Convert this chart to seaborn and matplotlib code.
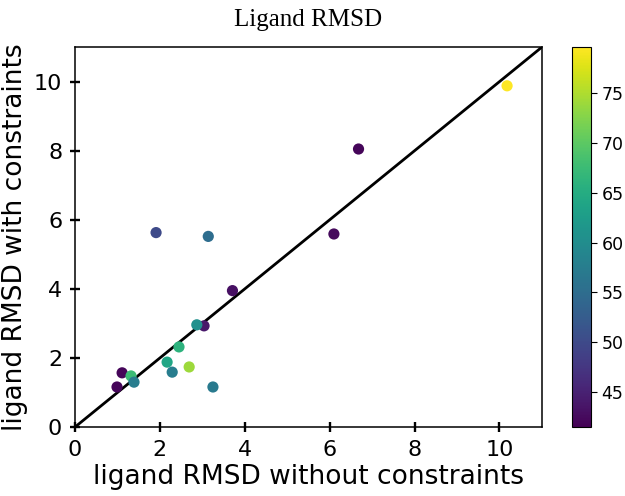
import numpy as np
import pandas as pd
import seaborn as sns
import matplotlib.pyplot as plt
from matplotlib.colors import Normalize
from matplotlib.cm import ScalarMappable

# RMSD values
rmsd_free = [10.18, 6.68, 6.10, 1.91, 3.14, 3.71, 3.04, 2.87, 2.45, 2.17,
             2.29, 2.69, 3.25, 1.11, 0.99, 1.32, 1.39]
rmsd_constr = [9.88, 8.05, 5.59, 5.63, 5.52, 3.95, 2.93, 2.96, 2.32, 1.88,
               1.59, 1.74, 1.16, 1.57, 1.16, 1.48, 1.30]
color_val = [79.5, 42.0, 42.5, 50.0, 55.0, 43.0, 44.0, 60.5, 66.0, 64.0,
             57.5, 74.0, 57.0, 42.0, 42.0, 67.5, 57.5]
vmin, vmax = 41.5, 79.6

df = pd.DataFrame({'x': rmsd_free, 'y': rmsd_constr, 'c': color_val})

sns.set_style('white')
plt.rcParams['font.family'] = ['DejaVu Sans']

fig = plt.figure(figsize=(6.25, 4.96), dpi=100)
ax = fig.add_axes([0.12, 0.139, 0.747, 0.766])
cax = fig.add_axes([0.915, 0.139, 0.031, 0.766])

sns.scatterplot(data=df, x='x', y='y', hue='c', palette='viridis',
                hue_norm=(vmin, vmax), s=65, linewidth=0, legend=False,
                ax=ax, zorder=3)
ax.plot([0, 11], [0, 11], color='black', lw=2, zorder=2)

ax.set_xlim(0, 11)
ax.set_ylim(0, 11)
ax.set_xticks([0, 2, 4, 6, 8, 10])
ax.set_yticks([0, 2, 4, 6, 8, 10])
ax.tick_params(labelsize=16, direction='inout', length=6.5, width=1.7,
               bottom=True, left=True, colors='black', pad=6)
for sp in ax.spines.values():
    sp.set_color('black')
    sp.set_linewidth(1.1)
ax.set_xlabel('ligand RMSD without constraints', fontsize=19, labelpad=3,
              color='black')
ax.set_ylabel('ligand RMSD with constraints', fontsize=19, labelpad=4,
              color='black')
ax.set_title('Ligand RMSD', fontsize=18, family='Liberation Serif', pad=15,
             color='black')

sm = ScalarMappable(norm=Normalize(vmin, vmax), cmap='viridis')
cb = fig.colorbar(sm, cax=cax)
cb.set_ticks([45, 50, 55, 60, 65, 70, 75])
cb.ax.tick_params(labelsize=12.5, length=4, colors='black')
cb.outline.set_edgecolor('black')

fig.savefig('out.png', dpi=100)
